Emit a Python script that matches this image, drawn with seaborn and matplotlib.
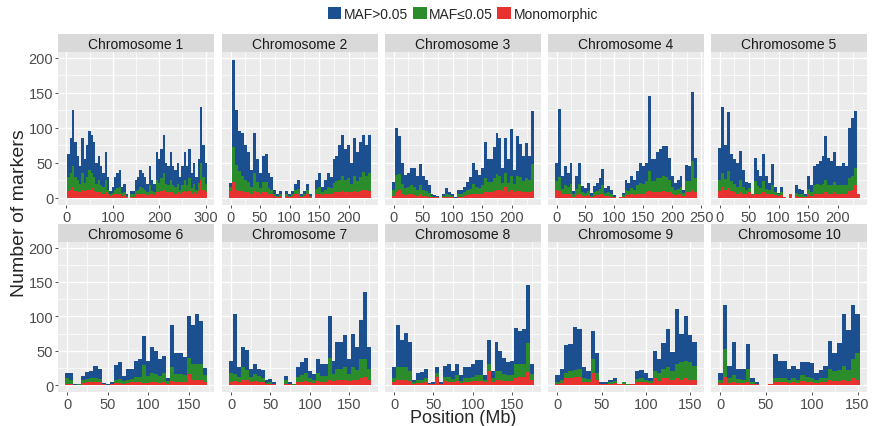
import numpy as np
import pandas as pd
import matplotlib
matplotlib.use("Agg")
import matplotlib.pyplot as plt
from matplotlib.patches import Patch
from matplotlib.ticker import MultipleLocator
import seaborn as sns

# counts per 5 Mb bin (bin i is centred on i*5 Mb)
chr1_mono = [0, 10, 12, 15, 10, 8, 8, 12, 10, 12, 12, 14, 10, 8, 8, 8, 6, 8, 6, 3, 4, 6, 6, 6, 3, 4, 2, 0, 2, 2, 5,
             5, 6, 6, 6, 4, 6, 5, 4, 8, 8, 10, 12, 8, 8, 8, 8, 6, 8, 6, 8, 10, 8, 10, 6, 8, 6, 10, 25, 12, 8]
chr1_low = [0, 20, 23, 30, 20, 17, 12, 23, 12, 18, 28, 21, 20, 12, 17, 10, 9, 17, 6, 2, 3, 6, 8, 9, 4, 4, 1, 0, 3, 3, 5,
            7, 9, 8, 6, 4, 12, 5, 4, 17, 14, 18, 23, 12, 10, 17, 10, 9, 12, 6, 10, 15, 10, 18, 8, 12, 6, 12, 25, 18, 12]
chr1_high = [0, 32, 50, 80, 50, 35, 25, 50, 33, 45, 55, 55, 50, 30, 35, 27, 20, 40, 18, 5, 8, 18, 21, 25, 8, 12, 2, 0, 5, 5, 15,
             18, 25, 21, 18, 12, 27, 15, 12, 40, 33, 42, 55, 30, 27, 40, 27, 25, 30, 18, 27, 40, 27, 42, 21, 30, 18, 33, 80, 45, 30]

chr2_mono = [10, 23, 12, 10, 10, 8, 8, 6, 10, 8, 6, 8, 8, 6, 5, 3, 2, 3, 0, 3, 2, 3, 5, 5, 2, 3, 5, 2, 0, 5,
             6, 4, 5, 6, 6, 8, 8, 8, 10, 8, 8, 8, 10, 8, 10, 12, 12, 10]
chr2_low = [5, 50, 35, 28, 22, 18, 15, 10, 25, 15, 8, 15, 15, 8, 7, 3, 1, 3, 0, 3, 1, 3, 6, 8, 1, 3, 6, 1, 0, 8,
            10, 4, 7, 10, 8, 14, 16, 18, 22, 18, 20, 12, 22, 16, 20, 25, 20, 25]
chr2_high = [7, 124, 78, 57, 60, 49, 42, 24, 57, 32, 21, 37, 39, 21, 18, 6, 2, 4, 0, 4, 2, 4, 9, 12, 2, 4, 9, 2, 0, 12,
             19, 7, 13, 19, 16, 33, 36, 49, 58, 44, 47, 30, 53, 41, 50, 53, 43, 55]

chr3_mono = [3, 8, 12, 6, 4, 5, 6, 4, 3, 6, 3, 3, 2, 1, 1, 1, 0, 1, 2, 1, 1, 0, 2, 2, 3, 4, 5, 6, 5, 5,
             6, 8, 8, 8, 10, 12, 12, 10, 15, 8, 12, 8, 10, 10, 8, 8, 8, 10]
chr3_low = [8, 25, 22, 14, 10, 10, 12, 12, 8, 12, 8, 7, 5, 2, 1, 1, 0, 2, 4, 3, 2, 0, 3, 3, 5, 7, 8, 14, 10, 9,
            12, 20, 15, 15, 18, 22, 20, 12, 20, 14, 20, 12, 22, 20, 16, 20, 18, 38]
chr3_high = [12, 67, 54, 30, 19, 21, 25, 27, 20, 30, 20, 16, 12, 3, 2, 1, 0, 3, 8, 5, 3, 1, 7, 7, 8, 12, 17, 30, 25, 19,
             25, 52, 32, 32, 44, 59, 54, 21, 50, 33, 66, 20, 56, 47, 36, 51, 34, 76]

chr4_mono = [12, 10, 5, 6, 5, 6, 2, 4, 6, 3, 3, 4, 1, 3, 4, 5, 6, 3, 3, 2, 1, 0, 1, 2, 4, 4, 5, 4, 6, 6,
             6, 8, 10, 8, 8, 8, 8, 10, 8, 8, 5, 4, 5, 5, 3, 8, 8, 12, 8]
chr4_low = [12, 20, 8, 12, 10, 14, 3, 9, 14, 5, 4, 6, 2, 5, 6, 8, 12, 4, 5, 4, 1, 0, 1, 2, 7, 6, 9, 8, 12, 16,
            14, 16, 28, 16, 16, 20, 20, 22, 22, 18, 10, 7, 8, 10, 4, 16, 16, 40, 20]
chr4_high = [26, 97, 18, 27, 21, 30, 5, 18, 30, 9, 7, 12, 4, 9, 12, 16, 23, 7, 9, 6, 2, 0, 0, 3, 14, 12, 17, 13, 20, 28,
             25, 26, 107, 31, 31, 37, 42, 42, 44, 31, 16, 11, 12, 16, 5, 23, 21, 99, 29]

chr5_mono = [10, 15, 12, 14, 10, 8, 6, 8, 6, 5, 8, 4, 6, 5, 6, 8, 5, 5, 6, 4, 3, 4, 1, 0, 6, 0, 3, 2, 2, 1,
             5, 3, 6, 6, 6, 6, 8, 6, 6, 8, 6, 6, 6, 6, 10, 12, 18, 5]
chr5_low = [15, 20, 15, 25, 14, 12, 10, 18, 10, 6, 6, 2, 18, 12, 8, 16, 8, 6, 12, 4, 2, 4, 1, 0, 0, 0, 4, 3, 3, 2,
            8, 5, 12, 14, 12, 14, 18, 12, 12, 15, 12, 12, 12, 12, 18, 20, 25, 0]
chr5_high = [46, 95, 48, 84, 38, 35, 34, 41, 24, 12, 8, 0, 33, 23, 17, 38, 18, 11, 30, 8, 2, 8, 0, 0, 0, 0, 11, 8, 6, 3,
             18, 10, 27, 28, 35, 40, 63, 39, 35, 42, 27, 27, 32, 27, 72, 82, 81, 0]

chr6_mono = [2, 2, 0, 0, 3, 4, 5, 5, 4, 1, 0, 1, 3, 3, 2, 3, 4, 4, 4, 3, 3, 4, 4, 3, 5, 2, 6, 4, 4, 4, 16, 8, 8, 8, 4]
chr6_low = [8, 6, 0, 1, 4, 5, 5, 6, 5, 1, 0, 1, 5, 6, 4, 5, 5, 8, 8, 26, 10, 14, 12, 10, 12, 4, 20, 12, 12, 10, 24, 22, 22, 22, 10]
chr6_high = [7, 10, 1, 1, 6, 10, 11, 17, 14, 1, 1, 3, 21, 25, 7, 15, 14, 23, 26, 43, 22, 38, 34, 25, 25, 5, 62, 30, 30, 27, 60, 58, 74, 63, 11]

chr7_mono = [5, 6, 4, 8, 8, 4, 6, 5, 4, 1, 2, 1, 0, 0, 2, 1, 0, 4, 5, 6, 4, 3, 6, 5, 5, 8, 6, 8, 8, 8, 6, 8, 8, 10, 12, 8]
chr7_low = [12, 10, 8, 18, 14, 8, 10, 8, 6, 2, 3, 1, 0, 0, 5, 1, 1, 8, 10, 12, 6, 5, 12, 8, 8, 32, 10, 16, 16, 18, 10, 18, 14, 28, 26, 16]
chr7_high = [18, 88, 14, 30, 29, 12, 15, 11, 12, 4, 4, 2, 0, 0, 6, 2, 1, 15, 18, 21, 11, 8, 20, 17, 17, 60, 19, 38, 38, 47, 22, 49, 33, 57, 97, 32]

chr8_mono = [5, 8, 8, 8, 6, 2, 3, 3, 4, 1, 1, 12, 1, 6, 5, 4, 6, 3, 5, 5, 6, 6, 6, 4, 21, 5, 8, 8, 6, 6, 6, 10, 12, 12, 19, 8]
chr8_low = [6, 18, 18, 18, 15, 3, 4, 4, 6, 1, 1, 5, 1, 6, 7, 5, 8, 3, 6, 6, 6, 8, 8, 3, 9, 5, 12, 12, 10, 8, 8, 20, 18, 18, 42, 8]
chr8_high = [15, 61, 39, 50, 41, 3, 10, 12, 14, 1, 2, 10, 2, 16, 18, 12, 17, 8, 15, 15, 18, 22, 22, 7, 35, 11, 43, 30, 23, 19, 21, 53, 48, 52, 84, 14]

chr9_mono = [2, 3, 10, 10, 12, 12, 5, 5, 18, 8, 1, 1, 2, 3, 1, 1, 0, 1, 4, 5, 4, 3, 10, 6, 10, 10, 8, 10, 8, 10, 8, 8]
chr9_low = [3, 4, 8, 10, 10, 12, 6, 4, 20, 10, 1, 1, 2, 3, 0, 3, 2, 1, 5, 5, 4, 3, 10, 12, 14, 16, 12, 20, 25, 25, 25, 20]
chr9_high = [9, 17, 40, 40, 63, 58, 15, 12, 40, 29, 3, 3, 4, 5, 1, 0, 0, 0, 12, 12, 9, 4, 29, 20, 37, 56, 28, 81, 41, 65, 40, 35]

chr10_mono = [3, 12, 3, 5, 3, 3, 4, 2, 1, 0, 0, 1, 4, 5, 5, 3, 4, 3, 6, 4, 4, 3, 4, 4, 8, 6, 6, 8, 6, 10, 8]
chr10_low = [5, 40, 8, 10, 6, 5, 20, 3, 1, 0, 0, 0, 6, 6, 6, 5, 6, 5, 8, 8, 6, 5, 6, 6, 16, 14, 16, 20, 16, 28, 38]
chr10_high = [9, 64, 17, 48, 14, 16, 36, 5, 3, 0, 0, 0, 35, 24, 24, 15, 18, 16, 19, 21, 22, 10, 12, 18, 40, 27, 39, 75, 58, 79, 58]

chromosomes = [f"Chromosome {i}" for i in range(1, 11)]
categories = ["MAF>0.05", "MAF\u22640.05", "Monomorphic"]
colors = ["#1c4f8f", "#2b8c2b", "#e8322f"]
x_steps = [100, 50, 50, 50, 50, 50, 50, 50, 50, 50]
bin_width = 5

mono = [chr1_mono, chr2_mono, chr3_mono, chr4_mono, chr5_mono, chr6_mono, chr7_mono, chr8_mono, chr9_mono, chr10_mono]
low = [chr1_low, chr2_low, chr3_low, chr4_low, chr5_low, chr6_low, chr7_low, chr8_low, chr9_low, chr10_low]
high = [chr1_high, chr2_high, chr3_high, chr4_high, chr5_high, chr6_high, chr7_high, chr8_high, chr9_high, chr10_high]

rows = []
for c, name in enumerate(chromosomes):
    for cat, series in zip(categories, [high[c], low[c], mono[c]]):
        for i, n in enumerate(series):
            rows.append((name, cat, i * bin_width, n))
df = pd.DataFrame(rows, columns=["chrom", "category", "pos", "count"])

sns.set_style("darkgrid", rc={"axes.facecolor": "#EBEBEB"})
plt.rcParams["font.family"] = ["Liberation Sans", "DejaVu Sans"]

fig = plt.figure(figsize=(8.72, 4.27), dpi=100)
W, H = 872, 427
col_x = [58, 222, 385, 548, 711]
panel_w = 156
row_y = [(53, 206), (243, 393)]
strip_y = [(35, 53), (225, 243)]

for c, name in enumerate(chromosomes):
    r, k = divmod(c, 5)
    top, bot = row_y[r]
    ax = fig.add_axes([col_x[k] / W, 1 - bot / H, panel_w / W, (bot - top) / H])
    sub = df[df["chrom"] == name]
    nbins = len(mono[c])
    lo = -bin_width / 2
    hi = lo + nbins * bin_width
    sns.histplot(data=sub, x="pos", weights="count", hue="category", hue_order=categories,
                 palette=colors, multiple="stack", binwidth=bin_width, binrange=(lo, hi),
                 element="step", linewidth=0, alpha=1, legend=False, ax=ax)
    pad = 0.05 * (hi - lo)
    ax.set_xlim(lo - pad, hi + pad)
    ax.set_ylim(-10, 208)
    ax.xaxis.set_major_locator(MultipleLocator(x_steps[c]))
    ax.xaxis.set_minor_locator(MultipleLocator(x_steps[c] / 2))
    ax.yaxis.set_major_locator(MultipleLocator(50))
    ax.yaxis.set_minor_locator(MultipleLocator(25))
    ax.set_axisbelow(True)
    ax.grid(which="major", color="white", linewidth=1.0)
    ax.grid(which="minor", color="white", linewidth=0.5)
    for s in ax.spines.values():
        s.set_visible(False)
    ax.set_xlabel("")
    ax.set_ylabel("")
    ax.tick_params(which="major", length=2.5, width=0.6, color="#333333",
                   labelcolor="#4d4d4d", labelsize=10.5, pad=1)
    ax.tick_params(which="minor", length=0)
    if k > 0:
        ax.tick_params(axis="y", left=False, labelleft=False)
    else:
        ax.tick_params(axis="y", left=True)
    ax.tick_params(axis="x", bottom=True)

    s_top, s_bot = strip_y[r]
    sax = fig.add_axes([col_x[k] / W, 1 - s_bot / H, panel_w / W, (s_bot - s_top) / H])
    sax.set_facecolor("#D9D9D9")
    sax.set_xticks([])
    sax.set_yticks([])
    sax.grid(False)
    for s in sax.spines.values():
        s.set_visible(False)
    sax.text(0.5, 0.45, name, ha="center", va="center", fontsize=10, color="#1a1a1a",
             transform=sax.transAxes)

handles = [Patch(facecolor=col, edgecolor="none") for col in colors]
fig.legend(handles, categories, loc="center", bbox_to_anchor=(463 / W, 1 - 15 / H), ncol=3,
           frameon=False, fontsize=10, handlelength=1.0, handleheight=1.0,
           handletextpad=0.2, columnspacing=0.3, borderaxespad=0)

fig.text(20 / W, 0.5, "Number of markers", rotation=90, ha="center", va="center", fontsize=14)
fig.text(463 / W, 1 - 419 / H, "Position (Mb)", ha="center", va="center", fontsize=13)

fig.savefig("out.png", dpi=100)
